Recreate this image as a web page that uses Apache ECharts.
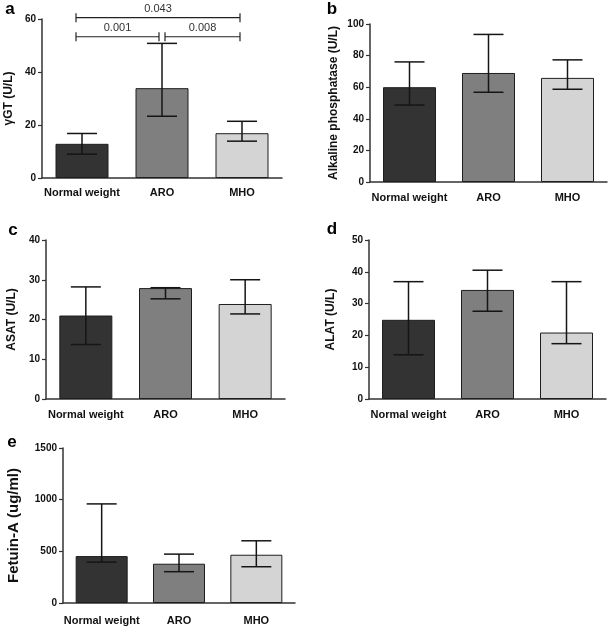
<!DOCTYPE html>
<html>
<head>
<meta charset="utf-8">
<script src="https://cdn.jsdelivr.net/npm/echarts@6/dist/echarts.min.js"></script>
<style>
html,body{margin:0;padding:0;background:#fff;}
#chart{width:610px;height:628px;}
</style>
</head>
<body>
<div id="chart"></div>
<script>
// ---- data ----
const categories = ['Normal weight', 'ARO', 'MHO'];

const ggtValues = [12.9, 33.9, 16.9];
const ggtLower  = [9.0, 23.3, 13.9];
const ggtUpper  = [16.8, 50.8, 21.4];

const alpValues = [60.0, 69.0, 65.9];
const alpLower  = [48.7, 56.8, 58.7];
const alpUpper  = [76.0, 93.4, 77.3];

const asatValues = [21.0, 27.9, 23.9];
const asatLower  = [13.7, 25.2, 21.4];
const asatUpper  = [28.2, 28.0, 30.0];

const alatValues = [24.9, 34.3, 20.9];
const alatLower  = [13.9, 27.6, 17.4];
const alatUpper  = [36.9, 40.5, 36.9];

const fetuinValues = [454, 380, 467];
const fetuinLower  = [396, 303, 351];
const fetuinUpper  = [959, 473, 602];

// significance brackets for panel a: [from category, to category, y value]
const bracketFrom   = [0, 0, 1];
const bracketTo     = [2, 1, 2];
const bracketY      = [60.5, 53.3, 53.3];
const bracketLabels = ['0.043', '0.001', '0.008'];

const yTicksA = [0, 60, 20];
const yTicksB = [0, 100, 20];
const yTicksC = [0, 40, 10];
const yTicksD = [0, 50, 10];
const yTicksE = [0, 1500, 500];

// ---- styling ----
const FONT = "'Liberation Sans', Arial, Helvetica, sans-serif";
const barColors = ['#333333', '#7f7f7f', '#d4d4d4'];
const axisColor = '#333';

const panels = [
  {letter: 'a', lx: 10, ly: 9, name: 'γGT (U/L)', gap: 27, nameSize: 12, grid: {left: 42, top: 19, width: 240, height: 159}, lm: 9, yt: yTicksA, v: ggtValues, lo: ggtLower, hi: ggtUpper, bw: 53},
  {letter: 'b', lx: 332, ly: 9, name: 'Alkaline phosphatase (U/L)', gap: 30, nameSize: 12, grid: {left: 370, top: 24, width: 237, height: 158}, lm: 10, yt: yTicksB, v: alpValues, lo: alpLower, hi: alpUpper, bw: 53},
  {letter: 'c', lx: 13, ly: 230, name: 'ASAT (U/L)', gap: 28, nameSize: 12, grid: {left: 46, top: 240, width: 239, height: 159}, lm: 10, yt: yTicksC, v: asatValues, lo: asatLower, hi: asatUpper, bw: 53},
  {letter: 'd', lx: 332, ly: 229, name: 'ALAT (U/L)', gap: 32, nameSize: 12, grid: {left: 369, top: 240, width: 237, height: 159}, lm: 10, yt: yTicksD, v: alatValues, lo: alatLower, hi: alatUpper, bw: 53},
  {letter: 'e', lx: 12, ly: 442, name: 'Fetuin-A (ug/ml)', gap: 42, nameSize: 15, grid: {left: 63, top: 448, width: 232, height: 155}, lm: 12, yt: yTicksE, v: fetuinValues, lo: fetuinLower, hi: fetuinUpper, bw: 52}
];

const bracketInsets = [[-6, -2], [-6, -3], [3, -2]];
const CAP = 15;

function errRender(params, api) {
  const x = api.value(0);
  const pLo = api.coord([x, api.value(1)]);
  const pHi = api.coord([x, api.value(2)]);
  const st = {stroke: '#151515', lineWidth: 1.5};
  return {type: 'group', children: [
    {type: 'line', shape: {x1: pLo[0], y1: pLo[1], x2: pHi[0], y2: pHi[1]}, style: st},
    {type: 'line', shape: {x1: pLo[0] - CAP, y1: pLo[1], x2: pLo[0] + CAP, y2: pLo[1]}, style: st},
    {type: 'line', shape: {x1: pHi[0] - CAP, y1: pHi[1], x2: pHi[0] + CAP, y2: pHi[1]}, style: st}
  ]};
}

function bracketRender(params, api) {
  const i = params.dataIndex;
  const p1 = api.coord([api.value(0), api.value(2)]);
  const p2 = api.coord([api.value(1), api.value(2)]);
  const x1 = p1[0] + bracketInsets[i][0];
  const x2 = p2[0] + bracketInsets[i][1];
  const y = p1[1];
  const st = {stroke: '#222', lineWidth: 1.2};
  return {type: 'group', children: [
    {type: 'line', shape: {x1: x1, y1: y, x2: x2, y2: y}, style: st},
    {type: 'line', shape: {x1: x1, y1: y - 4.5, x2: x1, y2: y + 4.5}, style: st},
    {type: 'line', shape: {x1: x2, y1: y - 4.5, x2: x2, y2: y + 4.5}, style: st},
    {type: 'text', x: (x1 + x2) / 2, y: y - 3, style: {text: bracketLabels[i], fill: '#333', font: '11px ' + FONT, textAlign: 'center', textVerticalAlign: 'bottom'}}
  ]};
}

const option = {
  animation: false,
  backgroundColor: '#fff',
  grid: [], xAxis: [], yAxis: [], series: [],
  graphic: []
};

panels.forEach((p, k) => {
  option.grid.push(Object.assign({containLabel: false}, p.grid));
  option.xAxis.push({
    type: 'category', gridIndex: k, data: categories,
    axisLine: {lineStyle: {color: axisColor, width: 1.5}},
    axisTick: {alignWithLabel: true, length: 4, lineStyle: {color: axisColor, width: 1.2}},
    axisLabel: {margin: p.lm, color: '#111', fontFamily: FONT, fontWeight: 'bold', fontSize: 11, interval: 0}
  });
  option.yAxis.push({
    type: 'value', gridIndex: k, min: p.yt[0], max: p.yt[1], interval: p.yt[2],
    name: p.name, nameLocation: 'middle', nameGap: p.gap, nameRotate: 90,
    nameTextStyle: {color: '#111', fontFamily: FONT, fontWeight: 'bold', fontSize: p.nameSize},
    axisLine: {show: true, lineStyle: {color: axisColor, width: 1.5}},
    axisTick: {show: true, length: 4, lineStyle: {color: axisColor, width: 1.2}},
    axisLabel: {margin: 6, color: '#111', fontFamily: FONT, fontWeight: 'bold', fontSize: 10, formatter: v => String(v)},
    splitLine: {show: false}
  });
  option.series.push({
    type: 'bar', xAxisIndex: k, yAxisIndex: k, barWidth: p.bw,
    data: p.v.map((v, i) => ({value: v, itemStyle: {color: barColors[i]}})),
    itemStyle: {borderColor: '#1e1e1e', borderWidth: 1},
    z: 2
  });
  option.series.push({
    type: 'custom', xAxisIndex: k, yAxisIndex: k, renderItem: errRender,
    encode: {x: 0, y: [1, 2]},
    data: p.v.map((v, i) => [i, p.lo[i], p.hi[i]]),
    z: 5, silent: true
  });
  option.graphic.push({
    type: 'text', x: p.lx, y: p.ly,
    style: {text: p.letter, fill: '#000', font: 'bold 17px ' + FONT, textAlign: 'center', textVerticalAlign: 'middle'}
  });
});

option.series.push({
  type: 'custom', xAxisIndex: 0, yAxisIndex: 0, renderItem: bracketRender, clip: false,
  encode: {x: [0, 1], y: 2},
  data: bracketFrom.map((f, i) => [f, bracketTo[i], bracketY[i]]),
  z: 6, silent: true
});

const chart = echarts.init(document.getElementById('chart'), null, {renderer: 'canvas'});
chart.setOption(option);
</script>
</body>
</html>
